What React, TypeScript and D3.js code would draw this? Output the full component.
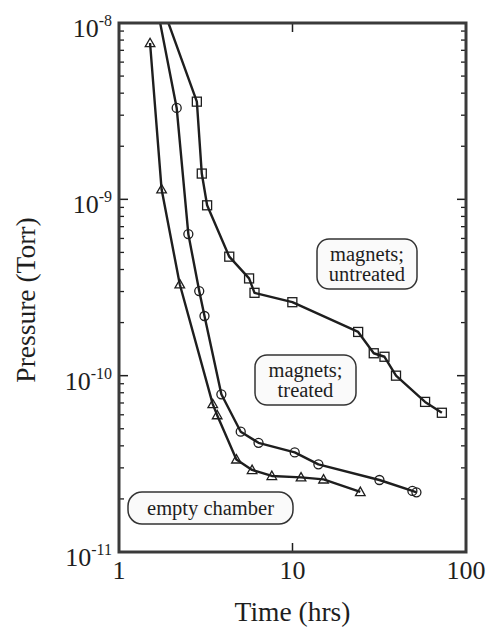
import React from "react";
import * as d3 from "d3";

// Pump-down curves: chamber pressure vs. elapsed time
const emptyTime = [1.51, 1.76, 2.24, 3.47, 3.68, 4.75, 5.85, 7.6, 11.2, 15.1, 24.6];
const emptyP = [7.7e-9, 1.14e-9, 3.3e-10, 6.9e-11, 5.97e-11, 3.35e-11, 2.92e-11, 2.7e-11, 2.65e-11, 2.58e-11, 2.19e-11];

const treatedTime = [1.64, 2.15, 2.51, 2.9, 3.11, 3.89, 5.03, 6.37, 10.3, 14.1, 31.7, 49.1, 51.8];
const treatedP = [1.3e-8, 3.3e-9, 6.35e-10, 3.02e-10, 2.18e-10, 7.84e-11, 4.81e-11, 4.16e-11, 3.67e-11, 3.14e-11, 2.56e-11, 2.22e-11, 2.18e-11];

const untreatedTime = [1.75, 2.81, 3.0, 3.22, 4.32, 5.62, 6.04, 9.98, 23.9, 29.4, 33.9, 39.5, 58.1, 72.6];
const untreatedP = [1.3e-8, 3.58e-9, 1.4e-9, 9.25e-10, 4.73e-10, 3.56e-10, 2.95e-10, 2.61e-10, 1.77e-10, 1.34e-10, 1.28e-10, 1.0e-10, 7.1e-11, 6.16e-11];

const xTickValues = [1, 10, 100];
const xTickLabels = ["1", "10", "100"];
const yTickValues = [1e-8, 1e-9, 1e-10, 1e-11];
const yTickExponents = ["-8", "-9", "-10", "-11"];

const W = 488;
const H = 635;
const left = 119;
const right = 466;
const top = 23;
const bottom = 552;

const FONT = '"Liberation Serif", "DejaVu Serif", serif';
const INK = "#1e1e1e";
const serif = { fontFamily: FONT };

export default function App() {
  const x = d3.scaleLog().domain([1, 100]).range([left, right]);
  const y = d3.scaleLog().domain([1e-11, 1e-8]).range([bottom, top]);

  const line = d3
    .line<[number, number]>()
    .x((d) => x(d[0]))
    .y((d) => y(d[1]));

  const zip = (t: number[], p: number[]) => t.map((v, i) => [v, p[i]] as [number, number]);
  const empty = zip(emptyTime, emptyP);
  const treated = zip(treatedTime, treatedP);
  const untreated = zip(untreatedTime, untreatedP);
  const inView = (d: [number, number]) => d[1] <= 1e-8;

  // minor ticks on the log pressure axis
  const minorY: number[] = [];
  for (let e = -11; e < -8; e++) {
    for (let m = 2; m <= 9; m++) minorY.push(m * Math.pow(10, e));
  }

  const triPath = (cx: number, cy: number) => {
    const s = 4.8;
    return `M${cx},${cy - s}L${cx + s},${cy + s * 0.75}L${cx - s},${cy + s * 0.75}Z`;
  };

  return (
    <svg width={W} height={H} style={{ display: "block", position: "absolute", left: 0, top: 0 }}>
      <rect width={W} height={H} fill="#fff" />
      <defs>
        <clipPath id="plotClip">
          <rect x={left} y={top} width={right - left} height={bottom - top} />
        </clipPath>
      </defs>

      {/* y ticks, both sides, pointing inward */}
      {yTickValues.map((v) => (
        <g key={"maj" + v} stroke={INK} strokeWidth={1.5}>
          <line x1={left} x2={left + 9} y1={y(v)} y2={y(v)} />
          <line x1={right} x2={right - 9} y1={y(v)} y2={y(v)} />
        </g>
      ))}
      {minorY.map((v) => (
        <g key={"min" + v} stroke={INK} strokeWidth={1.3}>
          <line x1={left} x2={left + 5} y1={y(v)} y2={y(v)} />
          <line x1={right} x2={right - 5} y1={y(v)} y2={y(v)} />
        </g>
      ))}
      {/* x ticks at the middle decade */}
      {xTickValues.slice(1, -1).map((v) => (
        <g key={"xt" + v} stroke={INK} strokeWidth={1.5}>
          <line x1={x(v)} x2={x(v)} y1={bottom} y2={bottom - 9} />
          <line x1={x(v)} x2={x(v)} y1={top} y2={top + 9} />
        </g>
      ))}

      {/* series */}
      <g clipPath="url(#plotClip)" fill="none" stroke={INK} strokeWidth={2.4} strokeLinejoin="round">
        <path d={line(empty) || ""} />
        <path d={line(treated) || ""} />
        <path d={line(untreated) || ""} />
      </g>
      <g fill="none" stroke={INK} strokeWidth={1.3}>
        {empty.filter(inView).map((d, i) => (
          <path key={"t" + i} d={triPath(x(d[0]), y(d[1]))} />
        ))}
        {treated.filter(inView).map((d, i) => (
          <circle key={"c" + i} cx={x(d[0])} cy={y(d[1])} r={4.5} />
        ))}
        {untreated.filter(inView).map((d, i) => (
          <rect key={"s" + i} x={x(d[0]) - 4.5} y={y(d[1]) - 4.5} width={9} height={9} />
        ))}
      </g>

      {/* frame */}
      <rect x={left} y={top} width={right - left} height={bottom - top} fill="none" stroke="#3a3a3a" strokeWidth={3} />

      {/* tick labels */}
      {xTickValues.map((v, i) => (
        <text key={"xl" + v} x={x(v)} y={579} textAnchor="middle" style={serif} fontSize={26} fill={INK}>
          {xTickLabels[i]}
        </text>
      ))}
      {yTickValues.map((v, i) => (
        <text key={"yl" + v} x={112} y={y(v) + 14} textAnchor="end" style={serif} fontSize={26} fill={INK}>
          10
          <tspan fontSize={16} dy={-11}>
            {yTickExponents[i]}
          </tspan>
        </text>
      ))}

      {/* axis titles */}
      <text x={(left + right) / 2} y={621} textAnchor="middle" style={serif} fontSize={27.5} fill={INK}>
        Time (hrs)
      </text>
      <text
        transform="translate(35, 300) rotate(-90)"
        textAnchor="middle"
        style={serif}
        fontSize={27.5}
        fill={INK}
      >
        Pressure (Torr)
      </text>

      {/* series labels */}
      <g style={serif} fontSize={20.5} fill={INK} textAnchor="middle">
        <rect x={317} y={239} width={100} height={50} rx={12} fill="#fafafa" stroke="#333" strokeWidth={1.5} />
        <text x={367} y={261}>magnets;</text>
        <text x={367} y={281}>untreated</text>

        <rect x={255} y={355} width={101} height={50} rx={12} fill="#fafafa" stroke="#333" strokeWidth={1.5} />
        <text x={305.5} y={377}>magnets;</text>
        <text x={305.5} y={397}>treated</text>

        <rect x={128} y={492} width={165} height={32} rx={14} fill="#fafafa" stroke="#333" strokeWidth={1.5} />
        <text x={210.5} y={515}>empty chamber</text>
      </g>
    </svg>
  );
}
